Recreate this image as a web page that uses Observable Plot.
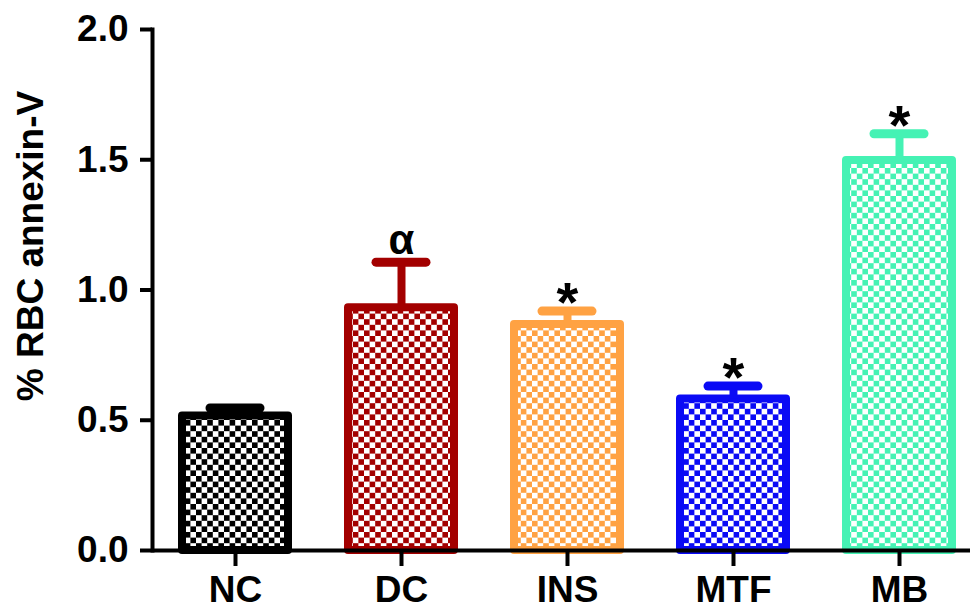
<!DOCTYPE html>
<html>
<head>
<meta charset="utf-8">
<script src="https://cdn.jsdelivr.net/npm/d3@7"></script>
<script src="https://cdn.jsdelivr.net/npm/@observablehq/plot@0.6"></script>
<style>
  html, body { margin: 0; padding: 0; background: #fff; }
  svg { font-family: "Liberation Sans", Arial, sans-serif; }
</style>
</head>
<body>
<div id="chart"></div>
<script>
const groups = ["NC", "DC", "INS", "MTF", "MB"];
const means = [0.516, 0.932, 0.868, 0.582, 1.497];
const errors = [0.031, 0.175, 0.051, 0.049, 0.103];
const colors = ["#000000", "#a30000", "#ffa243", "#0a0af5", "#45f2b4"];
const marks = ["", "α", "*", "*", "*"];
const yTicks = [0, 0.5, 1.0, 1.5, 2.0];
const yLabel = "% RBC annexin-V";

const data = groups.map((g, i) => ({
  group: g,
  value: means[i],
  top: means[i] + errors[i],
  color: colors[i],
  pat: `url(#pat${i})`,
  mark: marks[i]
}));

const plot = Plot.plot({
  width: 970,
  height: 610,
  marginLeft: 152,
  marginRight: 0,
  marginTop: 29,
  marginBottom: 60,
  style: {fontFamily: "'Liberation Sans', Arial, sans-serif", background: "#fff", overflow: "visible"},
  x: {domain: groups, range: [151, 982], paddingInner: 0.362, paddingOuter: 0.181, label: null},
  y: {domain: [0, 2], label: null},
  color: {type: "identity"},
  marks: [
    Plot.barY(data, {x: "group", y: "value", fill: "pat", stroke: "color", strokeWidth: 8, strokeLinejoin: "round"}),
    Plot.ruleX(data, {x: "group", y1: "value", y2: "top", stroke: "color", strokeWidth: 8}),
    Plot.tickY(data, {x: "group", y: "top", stroke: "color", strokeWidth: 9, insetLeft: 28, insetRight: 28, strokeLinecap: "round"}),
    Plot.text(data.filter(d => d.mark === "*"), {x: "group", y: "top", text: "mark", fontSize: 56, fontWeight: "bold", lineAnchor: "middle", dy: -8, fill: "#000"}),
    Plot.text(data.filter(d => d.mark === "α"), {x: "group", y: "top", text: "mark", fontSize: 42, fontWeight: "bold", lineAnchor: "middle", dy: -22, fill: "#000"}),
    Plot.ruleY([0], {stroke: "#000", strokeWidth: 4}),
    Plot.frame({anchor: "left", stroke: "#000", strokeWidth: 4}),
    Plot.axisY({ticks: yTicks, tickFormat: d3.format(".1f"), tickSize: 12, tickPadding: 12, strokeWidth: 4, fontSize: 37, fontWeight: "bold", fill: "#000", label: null}),
    Plot.axisX({tickSize: 16, tickPadding: 9, strokeWidth: 4, fontSize: 37, fontWeight: "bold", fill: "#000", label: null}),
    Plot.text([yLabel], {frameAnchor: "left", text: d => d, rotate: -90, textAnchor: "middle", dx: -121, dy: -44, fontSize: 37, fontWeight: "bold", fill: "#000"})
  ]
});

// pattern definitions for the checkered bar fills
const svgNS = "http://www.w3.org/2000/svg";
const cell = 5.6;
const defs = document.createElementNS(svgNS, "defs");
colors.forEach((c, i) => {
  const p = document.createElementNS(svgNS, "pattern");
  p.setAttribute("id", `pat${i}`);
  p.setAttribute("patternUnits", "userSpaceOnUse");
  p.setAttribute("width", cell * 2);
  p.setAttribute("height", cell * 2);
  const bg = document.createElementNS(svgNS, "rect");
  bg.setAttribute("width", cell * 2); bg.setAttribute("height", cell * 2); bg.setAttribute("fill", "#fff");
  p.appendChild(bg);
  [[0, 0], [cell, cell]].forEach(([x, y]) => {
    const r = document.createElementNS(svgNS, "rect");
    r.setAttribute("x", x); r.setAttribute("y", y);
    r.setAttribute("width", cell); r.setAttribute("height", cell);
    r.setAttribute("fill", c);
    r.setAttribute("shape-rendering", "crispEdges");
    p.appendChild(r);
  });
  defs.appendChild(p);
});
plot.insertBefore(defs, plot.firstChild);
document.getElementById("chart").appendChild(plot);
</script>
</body>
</html>
